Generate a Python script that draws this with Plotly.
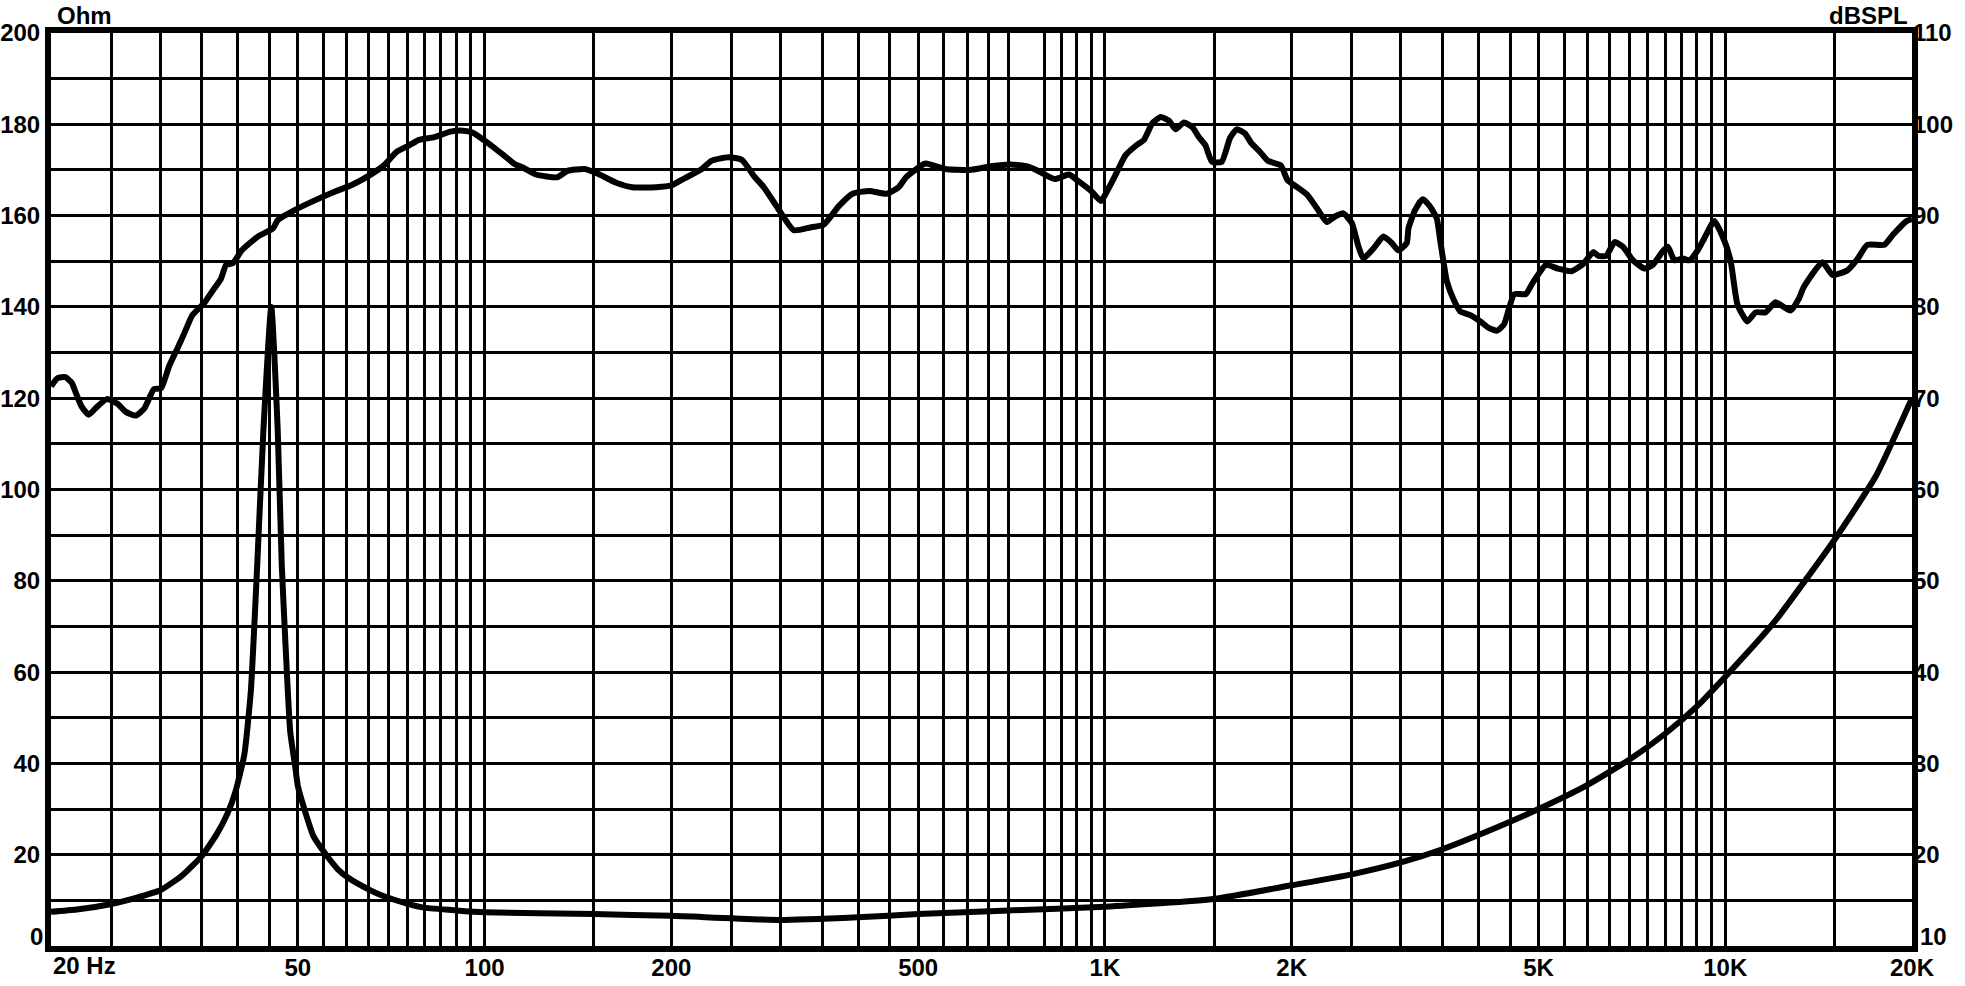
import math
import plotly.graph_objects as go

# ---------------- data ----------------
spl_freq = [20, 20.5, 21.1, 21.6, 21.9, 22.4, 23.0, 23.6, 24.6, 25.6, 26.4, 27.4, 28.3, 29.3,
            30.1, 31.0, 32.0, 32.8, 33.8, 35.3, 36.3, 37.6, 38.3, 39.3, 40.6, 43.1, 45.6, 46.4,
            49.4, 52.6, 56.8, 61.3, 65.9, 68.8, 72.2, 75.6, 78.4, 83.0, 88.1, 92.3, 95.6,
            102.4, 107.4, 112.0, 115, 121, 131, 136, 145, 152, 163, 173, 189, 200, 209, 224,
            232, 247, 260, 272, 282, 297, 315, 335, 352, 373, 392, 417, 445, 465, 478, 509,
            515, 553, 605, 655, 705, 750, 775, 830, 875, 905, 950, 985, 1003, 1034, 1079,
            1119, 1156, 1192, 1230, 1268, 1300, 1341, 1383, 1417, 1452, 1488, 1543, 1591,
            1631, 1682, 1723, 1777, 1831, 1921, 1969, 2043, 2118, 2197, 2279, 2349, 2422,
            2500, 2563, 2610, 2709, 2811, 2900, 2973, 3066, 3085, 3162, 3253, 3343, 3427,
            3471, 3558, 3648, 3740, 3883, 4029, 4156, 4290, 4400, 4484, 4570, 4770, 4890,
            5140, 5375, 5650, 5900, 6125, 6240, 6430, 6630, 6840, 7100, 7410, 7640, 7930,
            8080, 8280, 8540, 8750, 9030, 9250, 9600, 9960, 10210, 10460, 10850, 11190,
            11610, 12050, 12740, 13140, 13390, 14340, 14890, 15730, 16320, 16940, 18050,
            18630, 19600, 20000]
spl_db = [71.3, 72.2, 72.3, 71.7, 70.7, 69.1, 68.2, 68.9, 69.9, 69.4, 68.5, 68.1, 68.9, 71.0,
          71.1, 73.5, 75.5, 77.1, 79.1, 80.4, 81.6, 83.1, 84.6, 84.8, 86.2, 87.7, 88.6, 89.5,
          90.6, 91.5, 92.5, 93.4, 94.6, 95.5, 97.0, 97.7, 98.3, 98.6, 99.2, 99.3, 99.1,
          97.7, 96.6, 95.6, 95.3, 94.5, 94.2, 94.9, 95.1, 94.6, 93.6, 93.1, 93.1, 93.3, 94.0,
          95.1, 96.0, 96.4, 96.1, 94.3, 93.1, 90.8, 88.4, 88.7, 89.0, 91.1, 92.4, 92.7, 92.4,
          93.1, 94.2, 95.6, 95.7, 95.1, 95.0, 95.4, 95.6, 95.4, 95.0, 94.0, 94.5, 93.8, 92.7,
          91.6, 92.4, 94.1, 96.6, 97.6, 98.3, 100.1, 100.8, 100.4, 99.45, 100.2, 99.7, 98.6,
          97.7, 95.9, 95.9, 98.5, 99.45, 99.0, 97.9, 97.0, 96.0, 95.5, 93.9, 93.1, 92.3,
          90.8, 89.3, 89.9, 90.25, 89.2, 86.6, 85.3, 86.4, 87.7, 87.0, 86.2, 87.0, 88.6,
          90.6, 91.8, 91.0, 89.7, 87.3, 82.8, 80.8, 79.5, 79.1, 78.4, 77.7, 77.4, 78.1, 79.9,
          81.4, 81.4, 82.6, 84.6, 84.2, 83.9, 84.7, 86.0, 85.6, 85.6, 87.1, 86.6, 85.1, 84.2,
          84.6, 86.1, 86.6, 85.1, 85.3, 85.1, 86.2, 87.5, 89.4, 87.3, 84.9, 80.3, 78.4, 79.4,
          79.4, 80.5, 79.6, 80.9, 82.2, 84.9, 83.5, 84.0, 85.2, 86.8, 86.8, 87.9, 89.4, 89.6]

imp_freq = [20, 22, 25, 27.5, 30, 32.5, 35, 37, 38.5, 39.7, 41.0, 42.0, 43.0, 44.0, 45.3,
            46.4, 47.1, 48.0, 48.6, 49.5, 50, 51.3, 53, 55.3, 58, 60.2, 65, 68.5, 75, 80, 90,
            100, 150, 200, 300, 400, 500, 700, 1000, 1500, 2000, 2500, 3000, 3500, 4000,
            5000, 6000, 7000, 8000, 9000, 10000, 12000, 15000, 17500, 20000]
imp_ohm = [7.5, 8.0, 9.2, 10.6, 12.2, 15.4, 19.7, 24.5, 29.0, 34.0, 42.0, 56.0, 83.5, 113.0,
           140.0, 113.0, 83.5, 60.0, 47.0, 39.4, 35.0, 29.7, 24.0, 20.3, 16.8, 15.0, 12.4,
           11.0, 9.3, 8.4, 7.8, 7.4, 7.0, 6.6, 5.7, 6.3, 7.0, 7.8, 8.6, 10.3, 13.3, 15.7,
           18.3, 21.2, 24.3, 30.0, 35.3, 40.8, 46.5, 52.5, 59.0, 71.0, 89.0, 103.0, 120.0]

# vertical grid lines of the reference (750 Hz is absent there)
x_grid_freqs = [25, 30, 35, 40, 45, 50, 55, 60, 65, 70, 75, 80, 85, 90, 95, 100,
                150, 200, 250, 300, 350, 400, 450, 500, 550, 600, 650, 700, 800, 850, 900,
                950, 1000, 1500, 2000, 2500, 3000, 3500, 4000, 4500, 5000, 5500, 6000, 6500,
                7000, 7500, 8000, 8500, 9000, 9500, 10000, 15000, 20000]
x_label_vals = [50, 100, 200, 500, 1000, 2000, 5000, 10000, 20000]
x_label_text = ["50", "100", "200", "500", "1K", "2K", "5K", "10K", "20K"]
x_first_label = "20 Hz"

ohm_grid = [0, 10, 20, 30, 40, 50, 60, 70, 80, 90, 100, 110, 120, 130, 140, 150, 160, 170,
            180, 190, 200]
ohm_labels = [20, 40, 60, 80, 100, 120, 140, 160, 180, 200]
db_labels = [20, 30, 40, 50, 60, 70, 80, 90, 100, 110]

# ---------------- figure ----------------
FONT = "Liberation Sans, Arial, Helvetica, sans-serif"
tfont = dict(family=FONT, size=24, color="black", weight="bold")

x_ticktext = [x_label_text[x_label_vals.index(v)] if v in x_label_vals else ""
              for v in x_grid_freqs]
y_ticktext = [str(v) if v in ohm_labels else "" for v in ohm_grid]

fig = go.Figure()
fig.add_trace(go.Scatter(x=imp_freq, y=imp_ohm, mode="lines", yaxis="y",
                         line=dict(color="black", width=6, shape="spline", smoothing=0.5),
                         hoverinfo="skip"))
fig.add_trace(go.Scatter(x=spl_freq, y=spl_db, mode="lines", yaxis="y2",
                         line=dict(color="black", width=6, shape="spline", smoothing=0.5),
                         hoverinfo="skip"))

fig.update_layout(
    width=1965, height=986,
    margin=dict(l=51, r=53, t=33, b=40, autoexpand=False),
    paper_bgcolor="white", plot_bgcolor="white",
    showlegend=False,
    xaxis=dict(type="log", range=[math.log10(20), math.log10(20000)],
               tickmode="array", tickvals=x_grid_freqs, ticktext=x_ticktext,
               showgrid=True, gridcolor="black", gridwidth=2.5,
               showline=True, linecolor="black", linewidth=6, mirror=True,
               ticks="", tickfont=tfont, zeroline=False, automargin=False,
               ticklabelstandoff=-5),
    yaxis=dict(range=[0, 200], tickmode="array", tickvals=ohm_grid, ticktext=y_ticktext,
               showgrid=True, gridcolor="black", gridwidth=2.5,
               showline=True, linecolor="black", linewidth=6, mirror=True,
               ticks="", tickfont=tfont, zeroline=False, automargin=False),
    yaxis2=dict(range=[10, 110], overlaying="y", side="right", tickmode="array",
                tickvals=db_labels, ticktext=[str(v) for v in db_labels],
                showgrid=False, showline=False, zeroline=False, ticks="",
                tickfont=tfont, automargin=False),
)

fig.add_annotation(text="Ohm", xref="paper", yref="paper", x=0, y=1, xanchor="left",
                   yanchor="bottom", xshift=4, yshift=2, showarrow=False, font=tfont)
fig.add_annotation(text="dBSPL", xref="paper", yref="paper", x=1, y=1, xanchor="right",
                   yanchor="bottom", xshift=-2, yshift=2, showarrow=False, font=tfont)
fig.add_annotation(text=x_first_label, xref="paper", yref="paper", x=0, y=0,
                   xanchor="left", yanchor="top", yshift=-4, showarrow=False, font=tfont)
fig.add_annotation(text="0", xref="paper", yref="paper", x=0, y=0, xanchor="right",
                   yanchor="bottom", xshift=-6, yshift=-6, showarrow=False, font=tfont)
fig.add_annotation(text="10", xref="paper", yref="paper", x=1, y=0, xanchor="left",
                   yanchor="bottom", xshift=6, yshift=-6, showarrow=False, font=tfont)

fig.write_html("out.html", config={"displayModeBar": False},
               post_script="document.body.style.margin='0';document.body.style.overflow='hidden';")
